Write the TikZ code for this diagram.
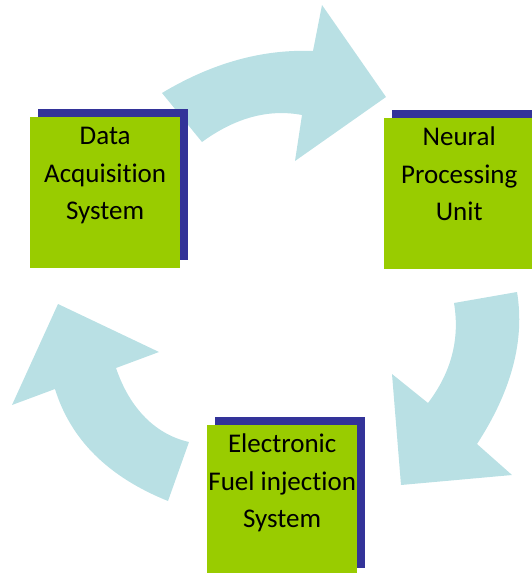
\documentclass[tikz,border=0pt]{standalone}
\usepackage{fontspec}
\setmainfont{Carlito}[Ligatures=NoCommon]
\usetikzlibrary{positioning, shadows}
\definecolor{boxgreen}{HTML}{99CC00}
\definecolor{shadowblue}{HTML}{333399}
\definecolor{arrowblue}{HTML}{B9E0E4}

\begin{document}
\begin{tikzpicture}[x=1pt, y=-1pt,
  procbox/.style={fill=boxgreen, minimum width=150pt, minimum height=151pt,
    inner sep=0pt, anchor=north west,
    general shadow={fill=shadowblue, shadow xshift=8pt, shadow yshift=8pt}},
  boxtext/.style={align=center, inner sep=0pt,
    font=\fontsize{27}{37.5}\selectfont, anchor=north},
  bigarrow/.style={fill=arrowblue}]
  \useasboundingbox (0,0) rectangle (532,573);

  % Curved arrows
  \fill[bigarrow] (162,93) .. controls (212,63) and (262.3,49) .. (313,51) -- (322,5)
    -- (386,97) -- (295,161) -- (302,115)
    .. controls (268.7,108.7) and (235.3,117.7) .. (202,142) -- cycle;
  \fill[bigarrow] (517,292) .. controls (525,340) and (511.7,390.7) .. (477,444)
    -- (512,475) -- (401,485) -- (392,374) -- (428,403)
    .. controls (451.3,372.3) and (460,339) .. (454,303) -- cycle;
  \fill[bigarrow] (168,501) .. controls (108.3,477) and (70.7,439.7) .. (55,389)
    -- (12,405) -- (58,304) -- (159,352) -- (116,368)
    .. controls (130.3,410) and (156.7,434.7) .. (189,442) -- cycle;

  % Boxes
  \node[procbox] (daq) at (30,117) {};
  \node[boxtext, below=10pt of daq.north] (daqtext) {Data\\Acquisition\\System};

  \node[procbox] (npu) at (384,118) {};
  \node[boxtext, below=9pt of npu.north] (nputext) {Neural\\Processing\\Unit};

  \node[procbox] (efi) at (207,425) {};
  \node[boxtext, below=9pt of efi.north] (efitext) {Electronic\\Fuel injection\\System};
\end{tikzpicture}
\end{document}
